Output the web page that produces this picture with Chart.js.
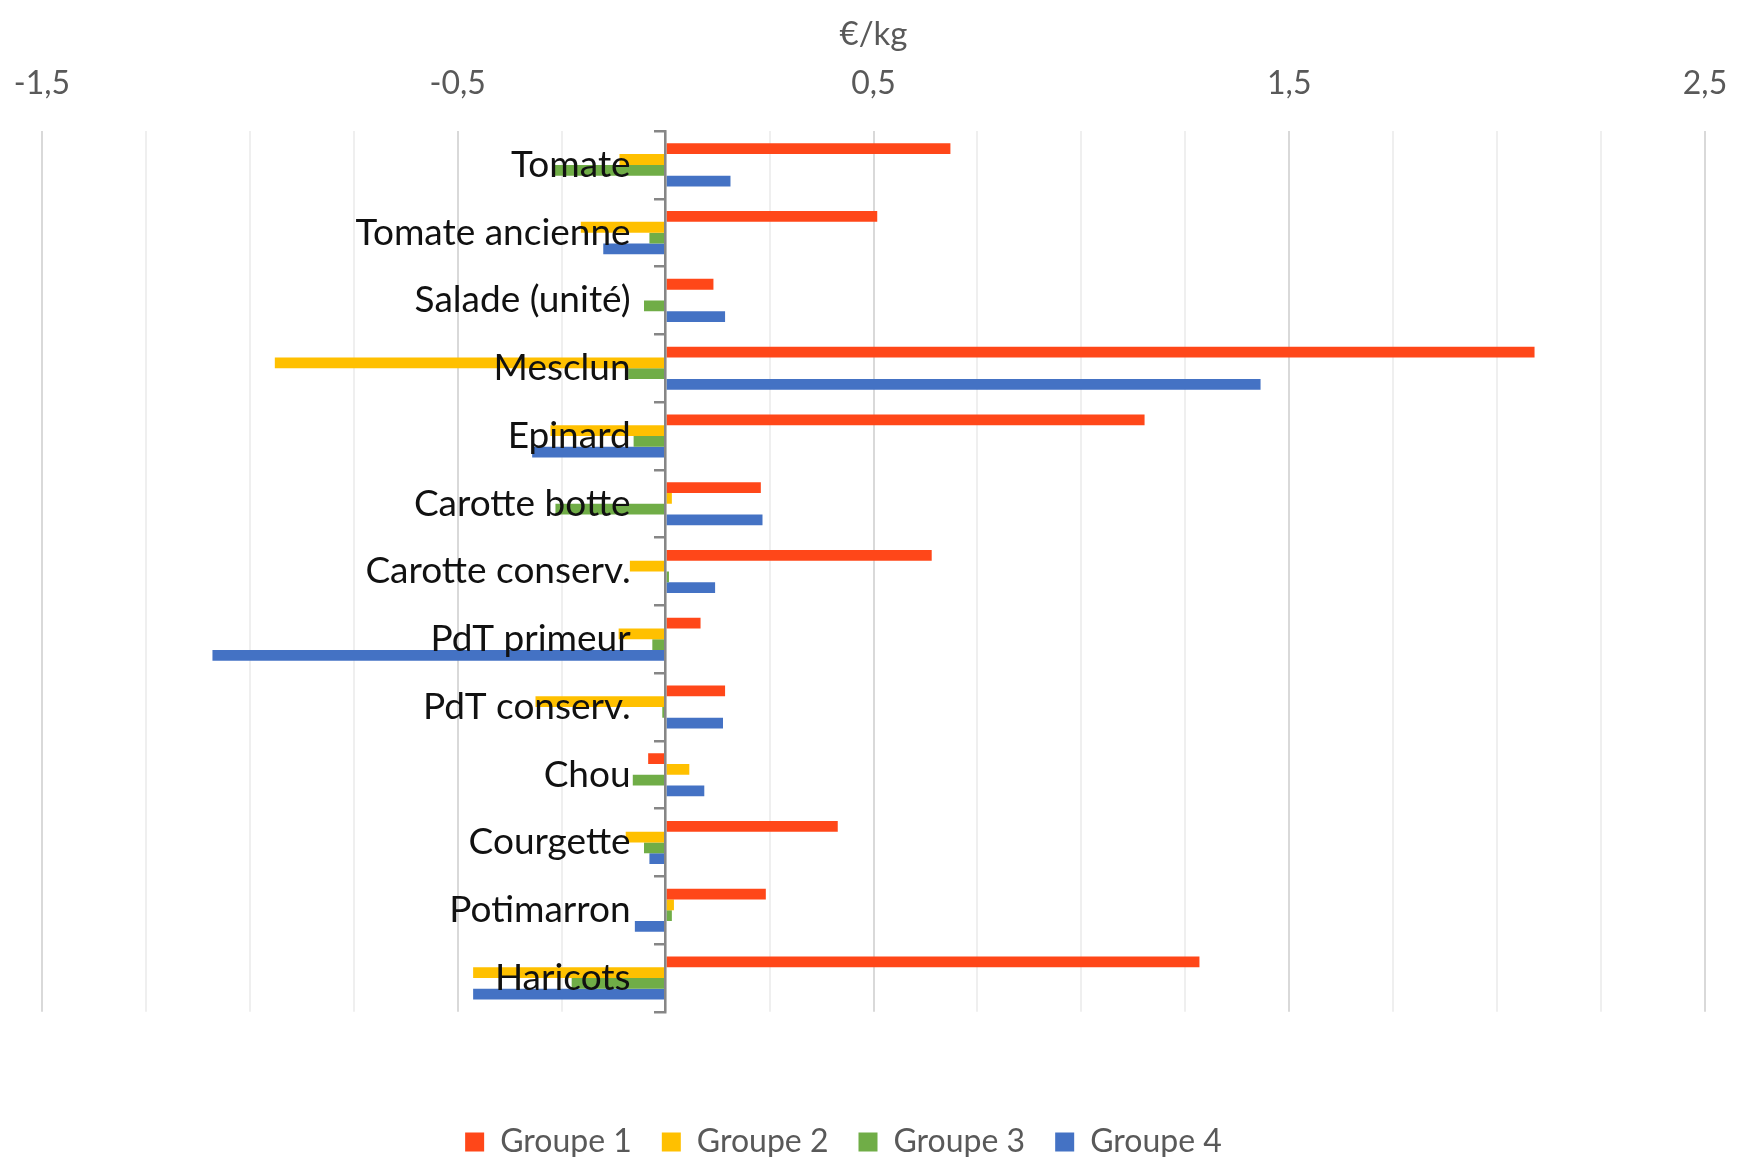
<!DOCTYPE html>
<html>
<head>
<meta charset="utf-8">
<title>€/kg par groupe</title>
<script src="https://cdn.jsdelivr.net/npm/chart.js@4.4.1/dist/chart.umd.min.js"></script>
<style>
	html, body { margin: 0; padding: 0; background: #ffffff; }
	#wrap { width: 1738px; height: 1157px; position: relative; }
</style>
</head>
<body>
<div id="wrap"><canvas id="mycanvas"></canvas></div>
<script>
var legumes = ['Tomate', 'Tomate ancienne', 'Salade (unité)', 'Mesclun', 'Epinard', 'Carotte botte',
	'Carotte conserv.', 'PdT primeur', 'PdT conserv.', 'Chou', 'Courgette', 'Potimarron', 'Haricots'];

var groupe1 = [0.685, 0.509, 0.115, 2.09, 1.152, 0.229, 0.64, 0.084, 0.143, -0.042, 0.414, 0.241, 1.284];
var groupe2 = [-0.111, -0.204, 0, -0.94, -0.277, 0.015, -0.086, -0.113, -0.313, 0.057, -0.096, 0.02, -0.463];
var groupe3 = [-0.271, -0.039, -0.052, -0.09, -0.077, -0.265, 0.008, -0.032, -0.008, -0.079, -0.052, 0.015, -0.226];
var groupe4 = [0.156, -0.15, 0.143, 1.431, -0.321, 0.233, 0.119, -1.09, 0.138, 0.093, -0.039, -0.074, -0.463];

var noms = ['Groupe 1', 'Groupe 2', 'Groupe 3', 'Groupe 4'];
var couleurs = ['#FF4719', '#FFC000', '#70AD47', '#4472C4'];

// graduations : labels seulement tous les 1 (à partir de -1,5)
var xMin = -1.5;
var xMax = 2.5;
var xPas = 0.25;
var labelsX = [-1.5, -0.5, 0.5, 1.5, 2.5];

function estMajeur(v) {
	for (var i = 0; i < labelsX.length; i++) {
		if (Math.abs(labelsX[i] - v) < 1e-6) return true;
	}
	return false;
}

// noms des légumes écrits à gauche de l'axe du zéro, par-dessus les barres (comme Excel)
var labelsLegumes = {
	id: 'labelsLegumes',
	afterLayout: function(chart) {
		// la légende d'Excel est un peu décalée vers la gauche
		chart.legend.left -= 30;
		chart.legend.right -= 30;
	},
	afterDatasetsDraw: function(chart) {
		var c = chart.ctx;
		var x0 = chart.scales.x.getPixelForValue(0);
		var sy = chart.scales.y;
		c.save();
		c.font = '37px Lato';
		c.fillStyle = '#111111';
		c.textAlign = 'right';
		c.textBaseline = 'middle';
		for (var i = 0; i < legumes.length; i++) {
			c.fillText(legumes[i], x0 - 35, sy.getPixelForTick(i));
		}
		c.restore();
	}
};

var series = [groupe1, groupe2, groupe3, groupe4];
var datasets = [];
for (var i in series) {
	datasets.push({
		label: noms[i],
		backgroundColor: couleurs[i],
		borderWidth: 0,
		data: series[i],
		barPercentage: 1,
		categoryPercentage: 0.635
	});
}

var ctx = document.getElementById('mycanvas');

var barGraph = new Chart(ctx, {
	type: 'bar',
	data: {
		labels: legumes,
		datasets: datasets
	},
	plugins: [labelsLegumes],
	options: {
		indexAxis: 'y',
		responsive: true,
		maintainAspectRatio: false,
		animation: false,
		layout: {
			padding: { top: 15, left: 42, right: 33, bottom: -11 }
		},
		plugins: {
			tooltip: { enabled: false },
			legend: {
				position: 'bottom',
				title: {
					display: true,
					text: '',
					font: { size: 1 },
					padding: { top: 83, bottom: 0 }
				},
				labels: {
					color: '#595959',
					font: { family: 'Lato', size: 32 },
					boxWidth: 19,
					boxHeight: 19,
					padding: 30
				}
			}
		},
		scales: {
			x: {
				position: 'top',
				min: xMin,
				max: xMax,
				title: {
					display: true,
					text: '€/kg',
					color: '#595959',
					font: { family: 'Lato', size: 33 },
					padding: { top: 0, bottom: 10 }
				},
				ticks: {
					stepSize: xPas,
					autoSkip: false,
					maxRotation: 0,
					padding: 0,
					color: '#595959',
					font: { family: 'Lato', size: 32 },
					callback: function(value) {
						if (!estMajeur(value)) return '';
						return String(Math.round(value * 10) / 10).replace('.', ',');
					}
				},
				grid: {
					drawTicks: true,
					tickLength: 28,
					tickColor: 'rgba(0,0,0,0)',
					lineWidth: 2,
					color: function(c) {
						if (c.tick && estMajeur(c.tick.value)) return '#d9d9d9';
						return '#efefef';
					}
				},
				border: { display: false }
			},
			y: {
				position: { x: 0 },
				ticks: { display: false },
				grid: {
					z: 1,
					drawOnChartArea: false,
					drawTicks: true,
					tickLength: 10,
					color: '#868686',
					lineWidth: 2.5
				},
				border: { z: 1, color: '#868686', width: 2.5 }
			}
		}
	}
});
</script>
</body>
</html>
